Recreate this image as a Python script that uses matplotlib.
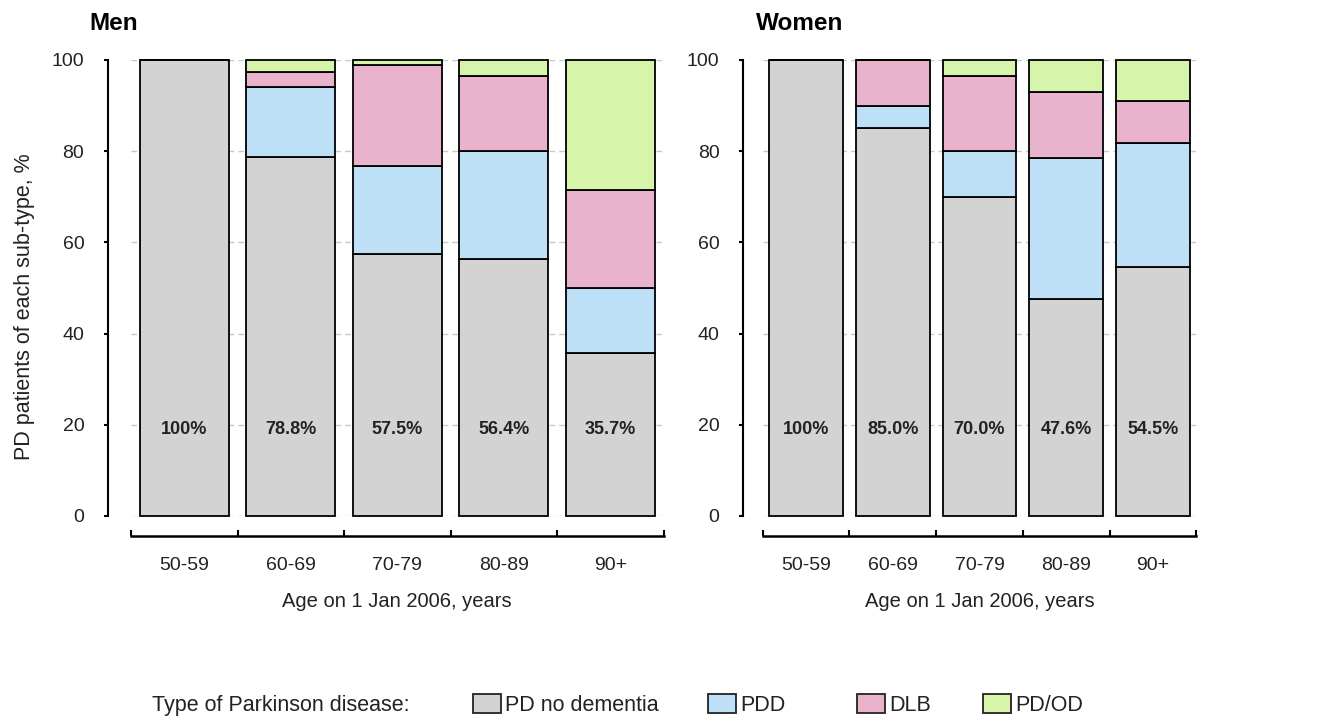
import matplotlib.pyplot as plt
import numpy as np
from matplotlib.patches import Patch

plt.rcParams['font.family'] = ['Liberation Sans', 'DejaVu Sans']

ages = ['50-59', '60-69', '70-79', '80-89', '90+']
types = ['PD no dementia', 'PDD', 'DLB', 'PD/OD']
colors = ['#d3d3d3', '#bee0f6', '#e9b2cd', '#d6f5aa']

# stacked shares, % (bottom to top)
men_nodem = [100, 78.8, 57.5, 56.4, 35.7]
men_pdd = [0, 15.2, 19.3, 23.6, 14.3]
men_dlb = [0, 3.3, 22.0, 16.4, 21.5]
men_od = [0, 2.7, 1.2, 3.6, 28.5]

women_nodem = [100, 85.0, 70.0, 47.6, 54.5]
women_pdd = [0, 5.0, 10.0, 31.0, 27.3]
women_dlb = [0, 10.0, 16.6, 14.3, 9.1]
women_od = [0, 0, 3.4, 7.1, 9.1]

pct_labels_men = ['100%', '78.8%', '57.5%', '56.4%', '35.7%']
pct_labels_women = ['100%', '85.0%', '70.0%', '47.6%', '54.5%']

fig = plt.figure(figsize=(13.2, 7.21), dpi=100)
ax1 = fig.add_axes([131/1320, 205/721, 532.5/1320, 456/721])
ax2 = fig.add_axes([762.6/1320, 205/721, 433.8/1320, 456/721])


def panel(ax, series, labels, width, yoff):
    x = np.arange(len(ages))
    bottom = np.zeros(len(ages))
    for vals, c in zip(series, colors):
        ax.bar(x, vals, width, bottom=bottom, color=c, edgecolor='black',
               linewidth=1.3, zorder=3, clip_on=False)
        bottom += np.array(vals)
    for xi, t in zip(x, labels):
        ax.text(xi, 19, t, ha='center', va='center', fontsize=13,
                fontweight='bold', color='#222222', zorder=4)
    ax.set_xlim(-0.5, 4.5)
    ax.set_ylim(0, 100)
    ax.set_yticks([0, 20, 40, 60, 80, 100])
    ax.yaxis.grid(True, linestyle=(0, (4, 3)), color='#c8c8c8', linewidth=1, zorder=0)
    ax.set_axisbelow(True)
    for s in ['top', 'right']:
        ax.spines[s].set_visible(False)
    ax.spines['left'].set_position(('outward', yoff))
    ax.spines['left'].set_bounds(0, 100)
    ax.spines['left'].set_linewidth(1.5)
    ax.spines['bottom'].set_position(('outward', 14.4))
    ax.spines['bottom'].set_linewidth(1.8)
    ax.tick_params(axis='y', direction='out', length=3, width=1.5,
                   labelsize=14, labelcolor='#222222', pad=14)
    ax.set_xticks(np.arange(-0.5, 5, 1))
    ax.set_xticklabels([])
    ax.tick_params(axis='x', which='major', direction='in', length=4, width=1.5)
    ax.set_xticks(x, minor=True)
    ax.set_xticklabels(ages, minor=True)
    ax.tick_params(axis='x', which='minor', length=0, pad=15,
                   labelsize=14, labelcolor='#222222')
    ax.set_xlabel('Age on 1 Jan 2006, years', fontsize=14.5, color='#222222', labelpad=13)


panel(ax1, [men_nodem, men_pdd, men_dlb, men_od], pct_labels_men, 0.84, 16.6)
panel(ax2, [women_nodem, women_pdd, women_dlb, women_od], pct_labels_women, 0.85, 14.1)

ax1.set_ylabel('PD patients of each sub-type, %', fontsize=15.5, color='#222222')
ax1.yaxis.set_label_coords(-0.18, 0.46)

fig.text(89/1320, 1 - 23/721, 'Men', fontsize=17.5, fontweight='bold', va='center', ha='left')
fig.text(756/1320, 1 - 23/721, 'Women', fontsize=17.5, fontweight='bold', va='center', ha='left')

leg_y = 1 - 705/721
fig.text(152/1320, leg_y, 'Type of Parkinson disease:', fontsize=15.5,
         color='#222222', va='center', ha='left')
leg_x = [473, 708, 857, 983]
for lab, c, lx in zip(types, colors, leg_x):
    h = Patch(facecolor=c, edgecolor='#222222', linewidth=1.3)
    fig.legend([h], [lab], loc='center left', bbox_to_anchor=(lx/1320, leg_y),
               frameon=False, fontsize=15.5, handlelength=1.3, handleheight=0.95,
               handletextpad=0.2, borderpad=0, borderaxespad=0, labelcolor='#222222')

plt.savefig('out.png', dpi=100)
